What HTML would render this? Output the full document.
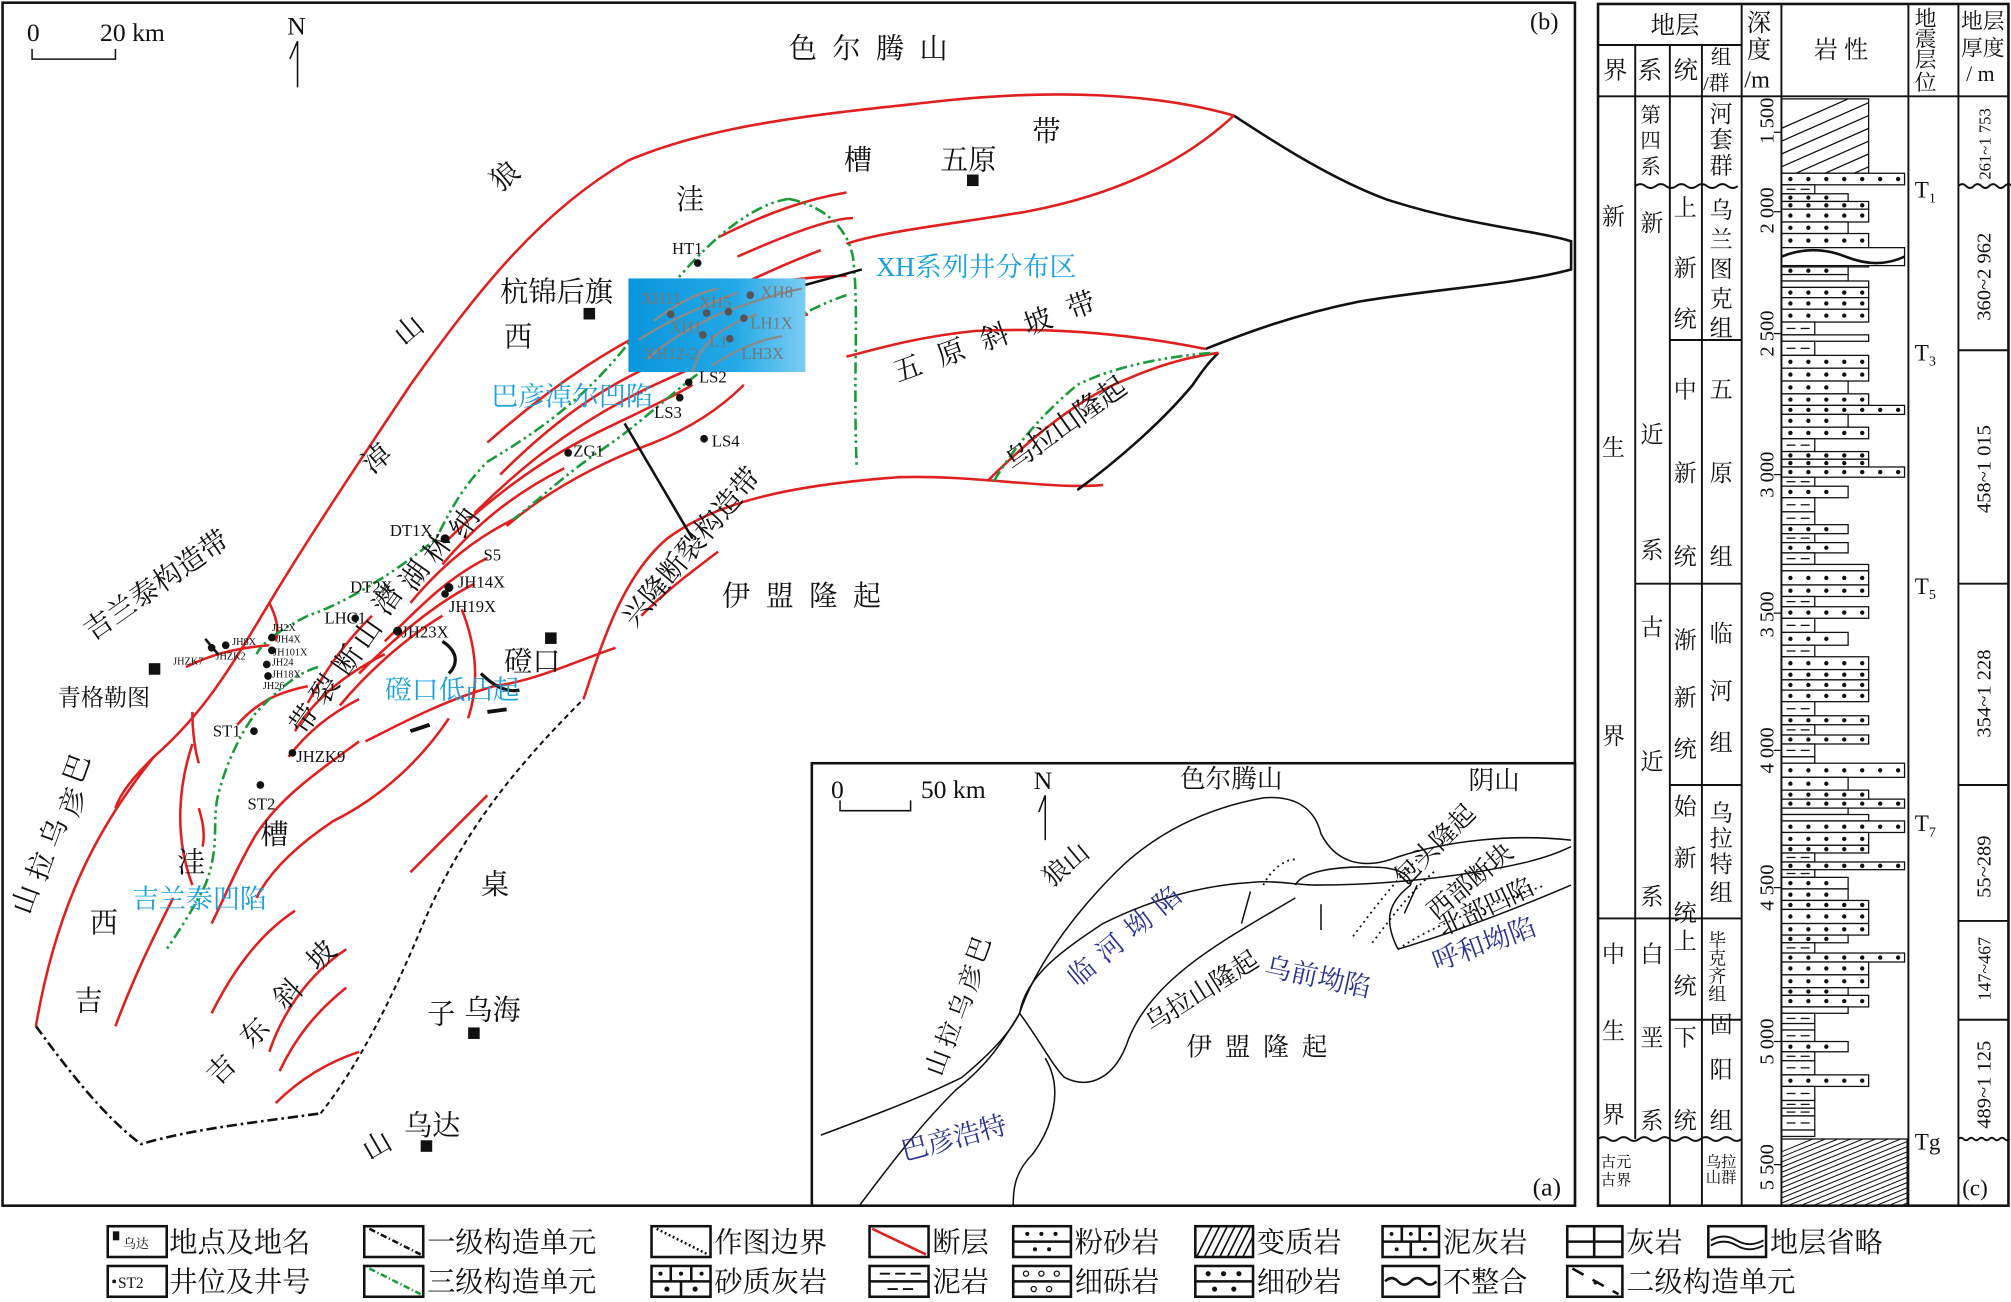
<!DOCTYPE html>
<html><head><meta charset="utf-8"><style>
html,body{margin:0;padding:0;background:#fff;}
svg{display:block;}
.s{font-family:"Liberation Serif","Noto Serif CJK SC",serif;fill:#111;}
.b{fill:#1aa0dc;}
.d{fill:#2b3590;}
.r{fill:none;stroke:#e02020;stroke-width:2;}
.g{fill:none;stroke:#1a9a3a;stroke-width:2;stroke-dasharray:9 3 2 3 2 3;}
.k{fill:none;stroke:#111;stroke-width:2;}
.t{fill:none;stroke:#111;stroke-width:1.2;}
</style></head><body>
<svg id="sv" width="2011" height="1302" viewBox="0 0 1568 1015" xmlns="http://www.w3.org/2000/svg">
<defs>
<linearGradient id="xg" x1="0" x2="1"><stop offset="0" stop-color="#0a96dc"/><stop offset="0.6" stop-color="#24a8e6"/><stop offset="1" stop-color="#7ccdf2"/></linearGradient>
<clipPath id="cb"><rect x="1389" y="888" width="98" height="52"/></clipPath>
<clipPath id="ct"><rect x="1389" y="77" width="68" height="58"/></clipPath>
<clipPath id="cm"><rect x="932" y="956" width="45" height="24"/></clipPath>
</defs>
<rect width="1568" height="1015" fill="#fff"/>
<rect x="2" y="2" width="1226" height="938" fill="none" stroke="#111" stroke-width="2"/>
<text class="s" x="21" y="32" font-size="20">0</text>
<text class="s" x="78" y="32" font-size="20">20 km</text>
<path d="M25 38 V46 H90 V38" class="t" stroke-width="1.5"/>
<text class="s" x="224" y="27" font-size="20">N</text>
<path d="M232 32 V68 M232 32 L226 46" class="t"/>
<text class="s" x="1193" y="23" font-size="19">(b)</text>

<path class="r" d="M962 90 C900 72 820 70 740 78 C650 88 560 95 490 125 C420 165 370 230 320 300 C280 360 240 420 210 470 C180 520 160 555 120 590 C80 640 45 700 28 800"/>
<path d="M28 800 C50 830 80 870 110 892 C150 880 200 875 250 868" fill="none" stroke="#111" stroke-width="2" stroke-dasharray="8 3 2 3"/>
<path d="M250 868 C280 830 305 780 330 720 C360 650 400 600 455 545" fill="none" stroke="#111" stroke-width="1.6" stroke-dasharray="4 3"/>
<path class="r" d="M455 545 C470 500 485 450 520 420 C560 390 620 378 700 372 C760 370 820 382 860 378"/>
<path class="k" d="M840 382 C870 360 905 330 930 300 C940 285 945 280 950 275"/>
<path class="r" d="M770 375 C800 345 840 310 880 295 C910 282 930 278 950 275"/>
<path class="k" d="M962 90 C1000 115 1040 140 1080 155 C1140 175 1200 180 1225 188 L1225 210 C1180 222 1120 225 1060 235 C1010 245 970 260 940 272"/>
<path class="r" d="M962 90 C930 120 880 150 800 165 C740 175 690 180 660 190"/>
<path class="r" d="M940 272 C880 260 820 255 760 258 C720 262 690 270 660 278"/>
<g class="r">
<path d="M560 185 C600 165 630 155 660 150"/><path d="M575 200 C620 180 650 170 665 170"/>
<path d="M490 226 C520 230 560 225 600 220 C620 218 640 215 660 215"/>
<path d="M380 345 C420 310 460 280 510 255 C550 235 600 210 640 195"/>
<path d="M390 370 C430 330 470 300 520 280 C560 265 600 250 630 245"/>
<path d="M370 400 C410 360 450 330 500 305 C530 290 560 280 580 265"/>
<path d="M350 420 C380 390 420 360 460 340 C490 325 520 312 540 300"/>
<path d="M395 410 C430 380 470 360 510 345 C535 335 560 320 580 300"/>
<path d="M345 440 C370 410 400 385 440 365"/>
<path d="M320 470 C345 440 370 420 400 405"/>
<path d="M300 500 C330 470 350 450 380 435"/>
<path d="M280 525 C310 495 340 470 370 455"/>
<path d="M265 550 C290 520 320 495 345 480"/>
<path d="M285 578 C320 560 350 545 385 535 C420 530 450 515 480 505"/>
<path d="M360 475 C370 500 375 530 365 560"/>
<path d="M240 548 C255 520 270 500 290 480"/>
<path d="M230 570 C245 545 270 525 300 510"/>
<path d="M225 590 C240 570 260 555 280 545"/>
<path d="M280 578 C250 600 220 620 200 650 C185 675 175 700 165 720"/>
<path d="M350 560 C330 590 300 620 260 640 C230 660 210 680 200 700"/>
<path d="M150 580 C140 610 135 650 150 690"/>
<path d="M155 630 C158 640 160 650 158 660"/>
<path d="M185 565 C200 548 215 540 240 535"/>
<path d="M145 520 C165 510 185 505 210 503"/>
<path d="M210 470 C215 480 218 490 215 500"/>
<path d="M120 590 C110 600 95 615 90 630"/>
<path d="M150 555 C150 570 152 585 155 595"/>
<path d="M135 700 C120 730 105 760 90 800"/>
<path d="M230 710 C200 730 180 760 165 790"/>
<path d="M270 740 C240 760 220 790 210 820"/>
<path d="M270 770 C245 790 230 810 218 835"/>
<path d="M280 820 C250 830 230 845 215 860"/>
<path d="M380 620 C360 640 340 660 320 680"/>
<path d="M500 480 C520 460 540 445 560 430"/>
</g>
<g class="g">
<path d="M615 155 C580 160 540 200 510 240 C470 300 430 330 380 360 C360 380 350 400 340 420 C310 445 270 470 240 480 C220 490 205 500 200 510"/>
<path d="M615 155 C640 160 660 175 665 200 C670 240 665 290 668 365"/>
<path d="M660 230 C630 240 600 260 560 280 C530 300 500 330 470 350 C440 370 420 390 400 405"/>
<path d="M248 520 C230 525 215 540 200 555 C185 575 175 600 170 620 C165 640 172 660 160 690 C150 710 140 725 130 740"/>
<path d="M775 375 C790 350 810 325 840 300 C870 285 910 278 945 275"/>
</g>
<path d="M345 500 C360 510 355 520 350 525 M375 525 C385 535 395 540 405 538" fill="none" stroke="#111" stroke-width="2.5"/>
<path d="M320 570 L335 565 M380 555 L395 553" stroke="#111" stroke-width="3"/>

<rect x="490" y="217" width="138" height="73" fill="url(#xg)"/>
<g fill="none" stroke="#8a8a8a" stroke-width="1.8">
<path d="M510 250 C530 235 545 228 560 225"/><path d="M498 265 C520 250 545 240 575 228"/>
<path d="M505 280 C520 265 540 255 560 245 C580 238 600 230 625 225"/>
<path d="M540 290 C545 270 560 255 590 245"/><path d="M555 285 C570 275 590 265 610 262"/>
</g>
<g class="s" font-size="13" style="fill:#777">
<text x="500" y="237">XH11</text><text x="545" y="240">XH5</text><text x="593" y="232">XH8</text>
<text x="522" y="259">XH1</text><text x="585" y="256">LH1X</text>
<text x="502" y="280">XH12-2</text><text x="553" y="270">L1</text><text x="578" y="280">LH3X</text>
</g>
<g fill="#555"><circle cx="523" cy="245" r="3"/><circle cx="585" cy="230" r="3"/><circle cx="568" cy="243" r="3"/><circle cx="551" cy="244" r="3"/><circle cx="580" cy="248" r="3"/><circle cx="548" cy="261" r="3"/><circle cx="569" cy="264" r="3"/></g>
<path d="M628 222 L672 210" class="k"/>
<path d="M487 330 L540 420" class="k"/>
<path d="M160 498 L170 510" class="k"/>

<g fill="#111">
<circle cx="544" cy="205" r="3"/><circle cx="537" cy="298" r="3"/><circle cx="530" cy="310" r="3"/><circle cx="549" cy="342" r="3"/><circle cx="443" cy="353" r="3"/>
<circle cx="347" cy="420" r="3.5"/><circle cx="350" cy="458" r="3.5"/><circle cx="347" cy="463" r="3"/><circle cx="310" cy="492" r="3.5"/><circle cx="277" cy="482" r="3"/>
<circle cx="198" cy="570" r="3"/><circle cx="228" cy="587" r="3"/><circle cx="203" cy="612" r="3"/>
<circle cx="165" cy="505" r="3"/><circle cx="176" cy="503" r="3"/><circle cx="212" cy="497" r="3"/><circle cx="212" cy="507" r="3"/><circle cx="208" cy="518" r="3"/><circle cx="209" cy="527" r="3"/>
</g>
<g class="s" font-size="13">
<text x="524" y="198">HT1</text><text x="545" y="298">LS2</text><text x="510" y="326">LS3</text><text x="555" y="348">LS4</text><text x="447" y="356">ZG1</text>
<text x="304" y="418">DT1X</text><text x="377" y="437">S5</text><text x="357" y="458">JH14X</text><text x="350" y="477">JH19X</text>
<text x="273" y="462">DT2X</text><text x="253" y="486">LHC1</text><text x="313" y="497">JH23X</text>
<text x="166" y="574">ST1</text><text x="231" y="594">JHZK9</text><text x="193" y="631">ST2</text>
</g>
<g class="s" font-size="8">
<text x="181" y="503">JH8X</text><text x="212" y="492">JH2X</text><text x="216" y="501">JH4X</text><text x="213" y="511">JH101X</text><text x="212" y="519">JH24</text><text x="212" y="528">JH18X</text><text x="205" y="537">JH26</text>
<text x="135" y="518">JHZK7</text><text x="168" y="514">JHZK2</text>
</g>
<g fill="#111"><rect x="754" y="136" width="9" height="9"/><rect x="455" y="240" width="9" height="9"/><rect x="425" y="493" width="9" height="9"/><rect x="116" y="517" width="9" height="9"/><rect x="365" y="801" width="9" height="9"/><rect x="328" y="889" width="9" height="9"/></g>
<g class="s" font-size="22">
<text x="615" y="45" letter-spacing="12">色尔腾山</text>
<text x="658" y="132">槽</text><text x="733" y="132">五原</text><text x="805" y="110">带</text>
<text x="527" y="163">洼</text>
<text x="390" y="235">杭锦后旗</text>
<text x="393" y="270">西</text>
<text transform="translate(390,150) rotate(-40)">狼</text>
<text transform="translate(315,270) rotate(-40)">山</text>
<text transform="translate(290,370) rotate(-40)">淖</text>
<text transform="translate(700,298) rotate(-20)" letter-spacing="14">五原斜坡带</text>
<text transform="translate(790,368) rotate(-35)">乌拉山隆起</text>
<text transform="translate(495,490) rotate(-50)">兴隆断裂构造带</text>
<text x="563" y="472" letter-spacing="12">伊盟隆起</text>
<text transform="translate(72,500) rotate(-35)">吉兰泰构造带</text>
<text x="45" y="550" font-size="18">青格勒图</text>
<text x="393" y="523">磴口</text>
<text transform="translate(362,421) rotate(-55)">纳</text>
<text transform="translate(341,441) rotate(-55)">林</text>
<text transform="translate(323,462) rotate(-55)">湖</text>
<text transform="translate(302,481) rotate(-55)">潜</text>
<text transform="translate(286,507) rotate(-55)">山</text>
<text transform="translate(271,528) rotate(-55)">断</text>
<text transform="translate(253,551) rotate(-55)">裂</text>
<text transform="translate(237,574) rotate(-55)">带</text>
<text x="203" y="658">槽</text><text x="138" y="680">洼</text><text x="70" y="727">西</text><text x="58" y="788">吉</text>
<text transform="translate(63,612) rotate(-70)">巴</text>
<text transform="translate(60,638) rotate(-70)">彦</text>
<text transform="translate(45,662) rotate(-70)">乌</text>
<text transform="translate(35,688) rotate(-70)">拉</text>
<text transform="translate(23,714) rotate(-70)">山</text>
<text transform="translate(170,847) rotate(-45)">吉</text>
<text transform="translate(196,818) rotate(-45)">东</text>
<text transform="translate(222,788) rotate(-45)">斜</text>
<text transform="translate(248,758) rotate(-45)">坡</text>
<text x="375" y="697">桌</text><text x="333" y="798">子</text><text x="362" y="795">乌海</text>
<text x="315" y="885">乌达</text><text transform="translate(288,905) rotate(-30)">山</text>
</g>
<g class="s b" font-size="21">
<text x="683" y="215">XH系列井分布区</text>
<text x="383" y="316">巴彦淖尔凹陷</text>
<text x="300" y="545">磴口低凸起</text>
<text x="103" y="708">吉兰泰凹陷</text>
</g>

<!-- inset (a) -->
<rect x="633" y="595" width="595" height="345" fill="#fff" stroke="#111" stroke-width="2"/>
<text class="s" x="648" y="622" font-size="20">0</text>
<text class="s" x="718" y="622" font-size="20">50 km</text>
<path d="M655 624 V632 H710 V624" class="t"/>
<text class="s" x="806" y="615" font-size="20">N</text>
<path d="M815 620 V655 M815 620 L810 633" class="t"/>
<g fill="none" stroke="#111" stroke-width="1.2">
<path d="M640 885 C680 870 720 855 750 840 C780 815 790 800 795 790 C805 760 830 720 870 680 C900 650 940 630 985 622 C1010 620 1025 630 1030 650 C1040 670 1060 680 1090 668 C1130 655 1180 650 1225 655"/>
<path d="M795 790 C800 760 830 740 860 720 C900 700 940 690 975 688 C995 686 1010 690 1025 690 C1060 690 1100 688 1150 680 C1180 675 1205 670 1225 660"/>
<path d="M1010 690 C1015 680 1040 675 1070 676 C1090 676 1100 682 1100 690"/>
<path d="M795 790 C810 810 820 830 830 840 C850 850 870 840 880 810 C900 760 960 730 1010 700"/>
<path d="M795 790 C780 815 770 830 745 850 C720 875 700 900 670 940"/>
<path d="M815 825 C830 850 820 880 805 900 C790 915 790 930 790 940"/>
<path d="M1090 740 C1140 725 1190 705 1225 690"/>
<path d="M1090 740 C1080 720 1080 705 1100 690"/>
</g>
<g fill="none" stroke="#111" stroke-width="1.4" stroke-dasharray="1.5 3">
<path d="M985 690 C990 680 1000 670 1010 670"/>
<path d="M1055 730 C1070 710 1085 690 1105 670"/>
<path d="M1070 735 C1085 715 1100 695 1120 678"/>
<path d="M1090 740 C1120 720 1150 710 1205 690"/>
</g>
<path d="M975 695 L968 720 M1030 705 V725 M1105 690 L1095 712" class="t"/>
<g class="s" font-size="20">
<text x="920" y="614">色尔腾山</text><text x="1145" y="615">阴山</text>
<text transform="translate(820,692) rotate(-40)">狼山</text>
<text transform="translate(1095,692) rotate(-45)">包头隆起</text>
<text transform="translate(1120,718) rotate(-40)">西部断块</text>
<text transform="translate(1125,730) rotate(-25)">北部凹陷</text>
<text transform="translate(898,805) rotate(-32)">乌拉山隆起</text>
<text x="925" y="823" letter-spacing="10">伊盟隆起</text>
<text transform="translate(766,752) rotate(-70)">巴</text>
<text transform="translate(760,774) rotate(-70)">彦</text>
<text transform="translate(752,796) rotate(-70)">乌</text>
<text transform="translate(743,818) rotate(-70)">拉</text>
<text transform="translate(734,840) rotate(-70)">山</text>
<text x="1195" y="932">(a)</text>
</g>
<g class="s d" font-size="21">
<text transform="translate(840,770) rotate(-40)" letter-spacing="8">临河坳陷</text>
<text transform="translate(985,760) rotate(12)">乌前坳陷</text>
<text transform="translate(1120,757) rotate(-20)">呼和坳陷</text>
<text transform="translate(705,905) rotate(-15)">巴彦浩特</text>
</g>

<!-- column (c) -->
<g id="lith" stroke="#111" stroke-width="1" fill="#fff"></g>
<g fill="none" stroke="#111" stroke-width="1.5">
<rect x="1246" y="3" width="320" height="937" stroke-width="2"/>
<path d="M1246 35 H1358 M1246 75 H1566"/>
<path d="M1275 35 V888 M1302 35 V940 M1327 35 V940 M1358 3 V940 M1389 3 V940 M1488 3 V940 M1527 3 V940"/>
<path d="M1302 265 H1358 M1275 455 H1358 M1302 612 H1358 M1246 716 H1358 M1302 795 H1358"/>
<path d="M1527 273 H1566 M1527 455 H1566 M1527 612 H1566 M1527 718 H1566 M1527 795 H1566"/>
<path d="M1275 145 q4 -3 8 0 t8 0 t8 0 t8 0 t8 0 t8 0 t8 0 t8 0 t8 0 t8 0"/>
<path d="M1246 888 q4 -3 8 0 t8 0 t8 0 t8 0 t8 0 t8 0 t8 0 t8 0 t8 0 t8 0 t8 0 t8 0 t8 0 t8 0"/>
<path d="M1527 145 q3 -3 6 0 t6 0 t6 0 t6 0 t6 0 t6 0 t6 0"/>
<path d="M1527 888 q2 -2 4 0 t4 0 t4 0 t4 0 t4 0 t4 0 t4 0 t4 0 t4 0 t4 0"/>
</g>
<g class="s" font-size="19">
<text x="1287" y="26">地层</text><text x="1414" y="45">岩 性</text>
<text x="1250" y="61">界</text><text x="1277" y="61">系</text><text x="1305" y="61">统</text>
<text x="1334" y="50" font-size="16">组</text><text x="1328" y="70" font-size="16">/群</text>
<text x="1362" y="24">深</text><text x="1362" y="45">度</text><text x="1360" y="68">/m</text>
<text x="1493" y="20" font-size="17">地</text><text x="1493" y="36" font-size="17">震</text><text x="1493" y="52" font-size="17">层</text><text x="1493" y="70" font-size="17">位</text>
<text x="1529" y="22" font-size="17">地层</text><text x="1529" y="43" font-size="17">厚度</text><text x="1533" y="63" font-size="17">/ m</text>
</g>
<g class="s" font-size="18">
<text x="1249" y="175">新</text><text x="1249" y="355">生</text><text x="1249" y="580">界</text>
<text x="1249" y="750">中</text><text x="1249" y="810">生</text><text x="1249" y="875">界</text>
<text x="1279" y="95" font-size="16">第</text><text x="1279" y="115" font-size="16">四</text><text x="1279" y="135" font-size="16">系</text>
<text x="1279" y="180">新</text><text x="1279" y="345">近</text><text x="1279" y="435">系</text>
<text x="1279" y="495">古</text><text x="1279" y="600">近</text><text x="1279" y="705">系</text>
<text x="1279" y="750">白</text><text x="1279" y="815">垩</text><text x="1279" y="880">系</text>
<text x="1305" y="168">上</text><text x="1305" y="215">新</text><text x="1305" y="255">统</text>
<text x="1305" y="310">中</text><text x="1305" y="375">新</text><text x="1305" y="440">统</text>
<text x="1305" y="505">渐</text><text x="1305" y="550">新</text><text x="1305" y="590">统</text>
<text x="1305" y="635">始</text><text x="1305" y="675">新</text><text x="1305" y="718">统</text>
<text x="1305" y="740">上</text><text x="1305" y="775">统</text>
<text x="1305" y="815">下</text><text x="1305" y="880">统</text>
<text x="1333" y="95">河</text><text x="1333" y="115">套</text><text x="1333" y="135">群</text>
<text x="1333" y="170">乌</text><text x="1333" y="193">兰</text><text x="1333" y="216">图</text><text x="1333" y="239">克</text><text x="1333" y="262">组</text>
<text x="1333" y="310">五</text><text x="1333" y="375">原</text><text x="1333" y="440">组</text>
<text x="1333" y="500">临</text><text x="1333" y="545">河</text><text x="1333" y="585">组</text>
<text x="1333" y="640">乌</text><text x="1333" y="660">拉</text><text x="1333" y="680">特</text><text x="1333" y="702">组</text>
<text x="1332" y="738" font-size="14">毕</text><text x="1332" y="752" font-size="14">克</text><text x="1332" y="766" font-size="14">齐</text><text x="1332" y="780" font-size="14">组</text>
<text x="1333" y="805">固</text><text x="1333" y="840">阳</text><text x="1333" y="880">组</text>
<text x="1248" y="910" font-size="12">古元</text><text x="1248" y="924" font-size="12">古界</text>
<text x="1330" y="910" font-size="12">乌拉</text><text x="1330" y="922" font-size="12">山群</text>
<text x="1493" y="154">T<tspan font-size="11" dy="4">1</tspan></text>
<text x="1493" y="281">T<tspan font-size="11" dy="4">3</tspan></text>
<text x="1493" y="463">T<tspan font-size="11" dy="4">5</tspan></text>
<text x="1493" y="648">T<tspan font-size="11" dy="4">7</tspan></text>
<text x="1493" y="896">Tg</text>
<text x="1530" y="932">(c)</text>
</g>
<g class="s" font-size="16">
<text transform="translate(1383,112) rotate(-90)">1 500</text>
<text transform="translate(1383,182) rotate(-90)">2 000</text>
<text transform="translate(1383,278) rotate(-90)">2 500</text>
<text transform="translate(1383,388) rotate(-90)">3 000</text>
<text transform="translate(1383,497) rotate(-90)">3 500</text>
<text transform="translate(1383,603) rotate(-90)">4 000</text>
<text transform="translate(1383,710) rotate(-90)">4 500</text>
<text transform="translate(1383,830) rotate(-90)">5 000</text>
<text transform="translate(1383,928) rotate(-90)">5 500</text>
<text transform="translate(1552,140) rotate(-90)" font-size="13">261~1 753</text>
<text transform="translate(1552,250) rotate(-90)">360~2 962</text>
<text transform="translate(1552,400) rotate(-90)">458~1 015</text>
<text transform="translate(1552,575) rotate(-90)">354~1 228</text>
<text transform="translate(1552,700) rotate(-90)">55~289</text>
<text transform="translate(1552,780) rotate(-90)" font-size="14">147~467</text>
<text transform="translate(1552,880) rotate(-90)">489~1 125</text>
</g>
<path d="M1383 103 H1389 M1383 165 H1389 M1383 260 H1389 M1383 370 H1389 M1383 478 H1389 M1383 585 H1389 M1383 692 H1389 M1383 812 H1389 M1383 908 H1389" stroke="#111"/>

<!-- legend -->
<g class="s" font-size="22">
<text x="132" y="976">地点及地名</text><text x="333" y="976">一级构造单元</text><text x="557" y="976">作图边界</text><text x="727" y="976">断层</text>
<text x="838" y="976">粉砂岩</text><text x="980" y="976">变质岩</text><text x="1125" y="976">泥灰岩</text><text x="1268" y="976">灰岩</text><text x="1380" y="976">地层省略</text>
<text x="132" y="1007">井位及井号</text><text x="333" y="1007">三级构造单元</text><text x="557" y="1007">砂质灰岩</text><text x="727" y="1007">泥岩</text>
<text x="838" y="1007">细砾岩</text><text x="980" y="1007">细砂岩</text><text x="1125" y="1007">不整合</text><text x="1268" y="1007">二级构造单元</text>
</g>
<g fill="none" stroke="#111" stroke-width="2">
<rect x="84" y="956" width="46" height="24"/><rect x="84" y="987" width="46" height="24"/>
<rect x="284" y="956" width="46" height="24"/><rect x="284" y="987" width="46" height="24"/>
<rect x="508" y="956" width="46" height="24"/><rect x="508" y="987" width="46" height="24"/>
<rect x="678" y="956" width="46" height="24"/><rect x="678" y="987" width="46" height="24"/>
<rect x="790" y="956" width="45" height="24"/><rect x="790" y="987" width="45" height="24"/>
<rect x="932" y="956" width="45" height="24"/><rect x="932" y="987" width="45" height="24"/>
<rect x="1078" y="956" width="44" height="24"/><rect x="1078" y="987" width="44" height="24"/>
<rect x="1222" y="956" width="43" height="24"/><rect x="1222" y="987" width="43" height="24"/>
<rect x="1332" y="956" width="45" height="24"/>
<path d="M288 958 L328 978" stroke-dasharray="5 2 1 2"/><path d="M512 958 L552 978" stroke-dasharray="1.5 2"/>
<path d="M680 958 L722 978" stroke="#e02020"/><path d="M288 989 L328 1009" stroke="#1a9a3a" stroke-dasharray="5 2 1 2"/>
<path d="M1226 989 L1262 1009" stroke-dasharray="10 8"/>
<path d="M790 968 H835 M790 999 H835 M932 999 H977 M1078 968 H1122 M1222 968 H1265 M1243 956 V980 M508 999 H554 M678 999 H724"/>
<path d="M523 987 V999 M539 987 V999 M531 999 V1011 M1093 956 V968 M1107 956 V968 M1100 968 V980"/>
<path d="M1080 999 q5 -5 10 0 t10 0 t10 0 t10 0"/>
<path d="M1334 967 q10 -6 20 0 t21 0 M1334 971 q10 -6 20 0 t21 0" stroke-width="1.5"/>
<path d="M686 993 H694 M698 993 H706 M710 993 H718 M692 1005 H700 M704 1005 H712" stroke-width="1.5"/>
<g clip-path="url(#cm)" stroke-width="1.3"><path d="M932 982 L946 954 M938 982 L952 954 M944 982 L958 954 M950 982 L964 954 M956 982 L970 954 M962 982 L976 954 M968 982 L982 954"/></g>
</g>
<g fill="#111"><rect x="88" y="960" width="5" height="7"/><circle cx="89" cy="999" r="1.5"/>
<circle cx="801" cy="962" r="1.6"/><circle cx="812" cy="962" r="1.6"/><circle cx="823" cy="962" r="1.6"/><circle cx="807" cy="974" r="1.6"/><circle cx="818" cy="974" r="1.6"/>
<circle cx="942" cy="993" r="2"/><circle cx="954" cy="993" r="2"/><circle cx="966" cy="993" r="2"/><circle cx="947" cy="1005" r="2"/><circle cx="962" cy="1005" r="2"/>
<circle cx="515" cy="993" r="1.6"/><circle cx="531" cy="993" r="1.6"/><circle cx="547" cy="993" r="1.6"/><circle cx="520" cy="1005" r="2"/><circle cx="542" cy="1005" r="2"/>
<circle cx="1085" cy="962" r="1.5"/><circle cx="1100" cy="962" r="1.5"/><circle cx="1115" cy="962" r="1.5"/><circle cx="1089" cy="974" r="1.5"/><circle cx="1111" cy="974" r="1.5"/>
<circle cx="1244" cy="1000" r="1.5"/>
</g>
<g fill="none" stroke="#111" stroke-width="1"><circle cx="800" cy="993" r="2"/><circle cx="812" cy="993" r="2"/><circle cx="824" cy="993" r="2"/><circle cx="806" cy="1005" r="2"/><circle cx="818" cy="1005" r="2"/></g>
<g class="s" font-size="10"><text x="96" y="973">乌达</text><text x="92" y="1004" font-size="12">ST2</text></g>
</svg>
<script>
(function(){
var NS="http://www.w3.org/2000/svg";
var lith=document.getElementById('lith');
function el(n,a,p){var e=document.createElementNS(NS,n);for(var k in a)e.setAttribute(k,a[k]);(p||lith).appendChild(e);return e;}
el('rect',{x:1389,y:77,width:68,height:58});
var tg=el('g',{'clip-path':'url(#ct)'});
for(var i=0;i<9;i++)el('line',{x1:1389,y1:100+i*10,x2:1457,y2:70+i*10},tg);
var y=135,seed=11;function rnd(){seed=(seed*9301+49297)%233280;return seed/233280;}
var widths=[26,26,68,68,68,52,96];
while(y<886){
 var h=5+Math.floor(rnd()*7); if(y+h>886)h=886-y;
 var w=widths[Math.floor(rnd()*widths.length)];
 el('rect',{x:1389,y:y,width:w,height:h});
 if(h>5){
  if(w==26){el('line',{x1:1393,y1:y+h/2,x2:1400,y2:y+h/2});el('line',{x1:1404,y1:y+h/2,x2:1411,y2:y+h/2});}
  else{for(var x=1396;x<1389+w-4;x+=14)el('circle',{cx:x,cy:y+h/2,r:1.2,fill:'#111'});}
 }
 y+=h;
}
el('rect',{x:1389,y:193,width:96,height:14});
el('path',{d:'M1389 200 q25 -10 50 0 t46 0',fill:'none','stroke-width':2});
el('rect',{x:1389,y:888,width:98,height:52});
var bg=el('g',{'clip-path':'url(#cb)'});
for(var i=0;i<26;i++)el('line',{x1:1389,y1:898+i*4,x2:1487,y2:858+i*4,'stroke-width':0.8},bg);
})();
</script>
</body></html>
